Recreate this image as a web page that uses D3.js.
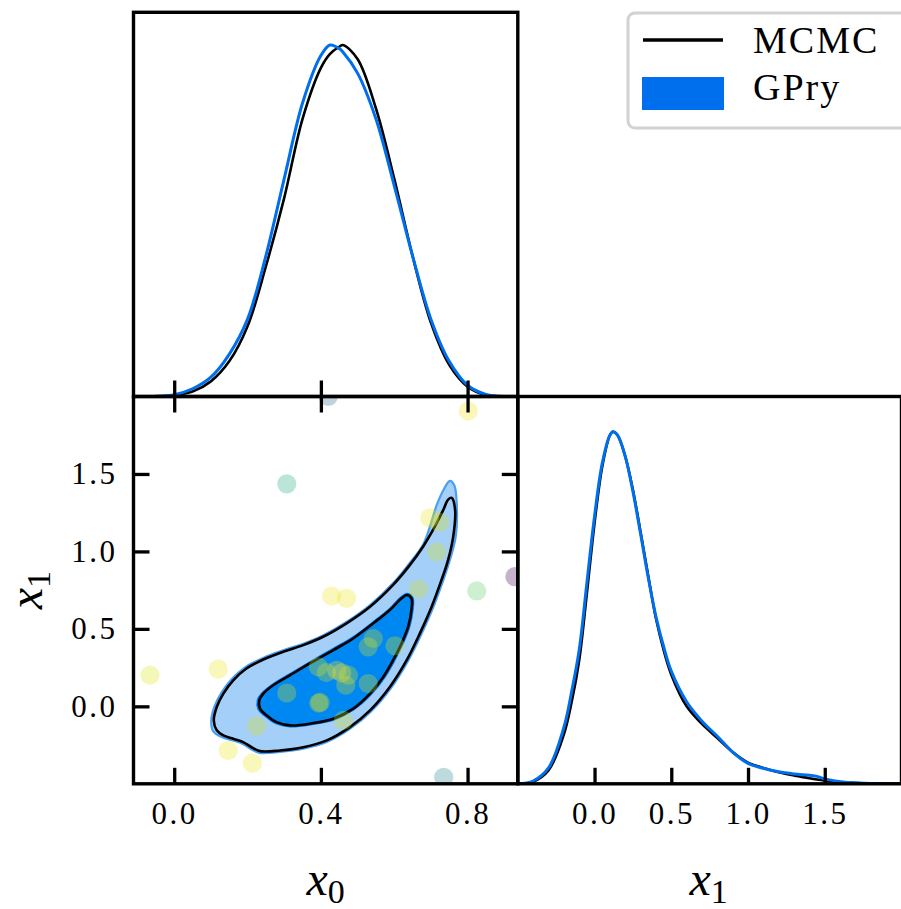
<!DOCTYPE html>
<meta charset="utf-8">
<head>
  <title>GPry vs MCMC corner plot</title>
</head>
<style>
    body {
        margin: 0;
        background-color: #ffffff;
    }
    svg text {
        font-family: "Liberation Serif", "DejaVu Serif", serif;
        fill: #000;
    }
    .tick line {
        stroke: #000;
        stroke-width: 3.3px;
    }
    .tick text {
        font-size: 31px;
        letter-spacing: 2.5px;
    }
    .frame {
        fill: none;
        stroke: #000;
        stroke-width: 3.4px;
    }
</style>
<body>
<svg id="corner" width="901" height="909"></svg>

<script src="https://d3js.org/d3.v7.min.js"></script>
<script>
    // tick labels
    var x0Ticks = [0.0, 0.4, 0.8];
    var x1Ticks = [0.0, 0.5, 1.0, 1.5];

    // 1D marginal of x0 (normalised to peak)
    var x0Grid = [-0.06, -0.05, 0.0, 0.05, 0.10, 0.15, 0.20, 0.25, 0.30, 0.35, 0.40, 0.425, 0.45, 0.46, 0.50, 0.55, 0.60, 0.65, 0.70, 0.75, 0.80, 0.85, 0.90];
    var x0Mcmc = [0.0, 0.0, 0.003, 0.014, 0.043, 0.10, 0.20, 0.37, 0.565, 0.79, 0.935, 0.975, 0.995, 1.0, 0.96, 0.82, 0.62, 0.40, 0.21, 0.09, 0.028, 0.004, 0.0];
    var x0Gpry = [0.0, 0.001, 0.005, 0.022, 0.055, 0.12, 0.22, 0.40, 0.62, 0.835, 0.97, 1.0, 0.99, 0.98, 0.92, 0.79, 0.60, 0.40, 0.22, 0.10, 0.032, 0.006, 0.0];

    // 1D marginal of x1
    var x1Grid = [-0.50, -0.40, -0.30, -0.20, -0.15, -0.10, -0.05, 0.00, 0.05, 0.10, 0.12, 0.15, 0.20, 0.25, 0.30, 0.35, 0.40, 0.45, 0.50, 0.60, 0.70, 0.80, 0.90, 1.00, 1.10, 1.20, 1.30, 1.40, 1.45, 1.50, 1.60, 1.70, 1.80, 2.00];
    var x1Mcmc = [0.0, 0.006, 0.038, 0.14, 0.23, 0.35, 0.54, 0.74, 0.90, 0.99, 1.0, 0.99, 0.93, 0.835, 0.715, 0.59, 0.47, 0.38, 0.31, 0.22, 0.17, 0.13, 0.09, 0.06, 0.045, 0.033, 0.024, 0.016, 0.012, 0.009, 0.005, 0.002, 0.001, 0.0];
    var x1Gpry = [0.0, 0.008, 0.045, 0.16, 0.26, 0.38, 0.57, 0.76, 0.91, 0.99, 1.0, 0.99, 0.93, 0.83, 0.71, 0.585, 0.475, 0.39, 0.32, 0.233, 0.178, 0.135, 0.09, 0.058, 0.044, 0.034, 0.028, 0.024, 0.021, 0.014, 0.006, 0.003, 0.001, 0.0];

    // 2D contours, [x0, x1]
    var mcmc95 = [[0.757,1.345],[0.766,1.269],[0.761,1.097],[0.747,0.946],[0.729,0.816],[0.702,0.643],[0.670,0.471],[0.634,0.298],[0.588,0.125],[0.534,-0.026],[0.479,-0.134],[0.416,-0.220],[0.352,-0.264],[0.288,-0.285],[0.234,-0.289],[0.211,-0.264],[0.188,-0.231],[0.161,-0.209],[0.134,-0.188],[0.116,-0.155],[0.108,-0.091],[0.116,-0.004],[0.134,0.082],[0.161,0.168],[0.197,0.244],[0.243,0.302],[0.297,0.352],[0.352,0.395],[0.406,0.449],[0.470,0.536],[0.534,0.643],[0.597,0.784],[0.643,0.913],[0.679,1.032],[0.711,1.161],[0.734,1.269],[0.747,1.334]];
    var mcmc68 = [[0.634,0.719],[0.647,0.697],[0.647,0.622],[0.638,0.514],[0.620,0.406],[0.597,0.298],[0.570,0.190],[0.534,0.082],[0.488,-0.015],[0.434,-0.080],[0.379,-0.108],[0.316,-0.123],[0.279,-0.102],[0.252,-0.058],[0.234,-0.015],[0.232,0.039],[0.243,0.082],[0.270,0.136],[0.316,0.201],[0.370,0.277],[0.434,0.363],[0.488,0.438],[0.543,0.536],[0.588,0.622],[0.620,0.697]];
    var gpry95 = [[0.752,1.455],[0.764,1.425],[0.770,1.330],[0.768,1.100],[0.752,0.946],[0.734,0.816],[0.707,0.643],[0.675,0.471],[0.638,0.295],[0.591,0.118],[0.536,-0.035],[0.480,-0.144],[0.416,-0.230],[0.352,-0.273],[0.288,-0.294],[0.232,-0.300],[0.209,-0.275],[0.186,-0.241],[0.158,-0.219],[0.128,-0.196],[0.106,-0.160],[0.101,-0.092],[0.110,0.000],[0.129,0.088],[0.157,0.176],[0.194,0.253],[0.241,0.311],[0.296,0.361],[0.352,0.404],[0.407,0.459],[0.471,0.546],[0.535,0.655],[0.598,0.797],[0.643,0.927],[0.680,1.050],[0.700,1.180],[0.716,1.300],[0.735,1.400]];
    var gpry68 = [[0.636,0.728],[0.651,0.700],[0.651,0.622],[0.642,0.512],[0.624,0.404],[0.601,0.295],[0.574,0.186],[0.537,0.076],[0.490,-0.022],[0.435,-0.088],[0.379,-0.116],[0.315,-0.131],[0.276,-0.109],[0.248,-0.064],[0.229,-0.018],[0.227,0.040],[0.240,0.087],[0.268,0.142],[0.314,0.208],[0.368,0.284],[0.432,0.371],[0.487,0.446],[0.542,0.544],[0.587,0.630],[0.618,0.705]];

    // GP training points: x0, x1, colour value
    var ptX0 = [0.42, 0.802, 0.307, 0.697, 0.724, 0.716, 0.929, 0.825, 0.666, 0.429, 0.470, -0.066, 0.120, 0.543, 0.529, 0.602, 0.393, 0.415, 0.443, 0.457, 0.475, 0.468, 0.529, 0.307, 0.394, 0.398, 0.461, 0.225, 0.147, 0.213, 0.735];
    var ptX1 = [2.00, 1.906, 1.436, 1.216, 1.187, 0.996, 0.837, 0.745, 0.756, 0.712, 0.697, 0.201, 0.240, 0.438, 0.384, 0.391, 0.255, 0.218, 0.233, 0.216, 0.201, 0.136, 0.147, 0.086, 0.021, 0.025, -0.091, -0.128, -0.285, -0.367, -0.458];
    var ptVal = [0.35, 0.98, 0.6, 0.97, 0.95, 0.95, 0.0, 0.75, 0.95, 0.97, 0.97, 0.95, 0.97, 0.95, 0.95, 0.95, 0.95, 0.95, 1.0, 1.0, 0.95, 0.95, 0.95, 0.95, 0.95, 0.95, 0.95, 0.95, 0.97, 0.97, 0.45];

    var legendNames = ["MCMC", "GPry"];

    var blue = "#006FED";

    // panel edges
    var L = 133.5, M = 517.8, R = 901.5, T = 12.3, MY = 396.5, B = 783.8;

    var svg = d3.select("#corner");
    var defs = svg.append("defs");

    var x0 = d3.scaleLinear().domain([-0.111, 0.937]).range([L, M]);
    var x1h = d3.scaleLinear().domain([-0.5, 2.0]).range([M, R]);
    var x1v = d3.scaleLinear().domain([-0.5, 2.0]).range([B, MY]);
    var dTop = d3.scaleLinear().domain([0, 1.093]).range([MY, T]);
    var dRight = d3.scaleLinear().domain([0, 1.1]).range([B, MY]);
    var color = d3.scaleSequential(d3.interpolateViridis).domain([0, 1]);

    function clip(id, x, y, w, h) {
        defs.append("clipPath").attr("id", id)
            .append("rect").attr("x", x).attr("y", y).attr("width", w).attr("height", h);
        return "url(#" + id + ")";
    }

    // ---- top-left: x0 marginal
    var gTop = svg.append("g").attr("clip-path", clip("cTop", L, T, M - L, MY - T));
    var lineTop = d3.line().x(function(d) { return x0(d[0]); }).y(function(d) { return dTop(d[1]); })
        .curve(d3.curveCatmullRom.alpha(0.5));
    gTop.append("path").datum(d3.zip(x0Grid, x0Mcmc))
        .attr("d", lineTop).attr("fill", "none").attr("stroke", "#000").attr("stroke-width", 2.6);
    gTop.append("path").datum(d3.zip(x0Grid, x0Gpry))
        .attr("d", lineTop).attr("fill", "none").attr("stroke", blue).attr("stroke-width", 3);

    // ---- bottom-right: x1 marginal
    var gRight = svg.append("g").attr("clip-path", clip("cRight", M, MY, R - M, B - MY));
    var lineRight = d3.line().x(function(d) { return x1h(d[0]); }).y(function(d) { return dRight(d[1]); })
        .curve(d3.curveCatmullRom.alpha(0.5));
    gRight.append("path").datum(d3.zip(x1Grid, x1Mcmc))
        .attr("d", lineRight).attr("fill", "none").attr("stroke", "#000").attr("stroke-width", 2.6);
    gRight.append("path").datum(d3.zip(x1Grid, x1Gpry))
        .attr("d", lineRight).attr("fill", "none").attr("stroke", blue).attr("stroke-width", 3);

    // ---- bottom-left: 2D contours + points
    var g2d = svg.append("g").attr("clip-path", clip("c2d", L, MY, M - L, B - MY));
    var contour = d3.line().x(function(d) { return x0(d[0]); }).y(function(d) { return x1v(d[1]); })
        .curve(d3.curveCatmullRomClosed.alpha(0.5));

    g2d.append("path").datum(gpry95).attr("d", contour)
        .attr("fill", "#a3cff8").attr("stroke", "#4c9ef2").attr("stroke-width", 2.2);
    g2d.append("path").datum(gpry68).attr("d", contour)
        .attr("fill", "#0088f2").attr("stroke", "#0074ea").attr("stroke-width", 1.5);
    g2d.append("path").datum(mcmc95).attr("d", contour)
        .attr("fill", "none").attr("stroke", "#000").attr("stroke-width", 2.6);
    g2d.append("path").datum(mcmc68).attr("d", contour)
        .attr("fill", "none").attr("stroke", "#000").attr("stroke-width", 2.6);

    g2d.selectAll("circle.pt")
        .data(d3.range(ptX0.length))
        .enter().append("circle")
        .attr("class", "pt")
        .attr("cx", function(i) { return x0(ptX0[i]); })
        .attr("cy", function(i) { return x1v(ptX1[i]); })
        .attr("r", 9.6)
        .attr("fill", function(i) { return color(ptVal[i]); })
        .attr("fill-opacity", 0.3);

    // ---- axes (inward ticks)
    var fmt = d3.format(".1f");

    svg.append("g").attr("transform", "translate(0," + MY + ")")
        .call(d3.axisTop(x0).tickValues(x0Ticks).tickSize(16).tickFormat(""));
    svg.append("g").attr("transform", "translate(0," + MY + ")")
        .call(d3.axisTop(x0).tickValues(x0Ticks).tickSize(-16).tickFormat(""));
    svg.append("g").attr("transform", "translate(0," + B + ")")
        .call(d3.axisBottom(x0).tickValues(x0Ticks).tickSize(-16).tickPadding(18).tickFormat(fmt));
    svg.append("g").attr("transform", "translate(" + L + ",0)")
        .call(d3.axisLeft(x1v).tickValues(x1Ticks).tickSize(-16).tickPadding(16).tickFormat(fmt));
    svg.append("g").attr("transform", "translate(" + M + ",0)")
        .call(d3.axisRight(x1v).tickValues(x1Ticks).tickSize(-16).tickFormat(""));
    svg.append("g").attr("transform", "translate(0," + B + ")")
        .call(d3.axisBottom(x1h).tickValues(x1Ticks).tickSize(-16).tickPadding(18).tickFormat(fmt));

    svg.selectAll(".domain").remove();

    // ---- frames
    svg.append("rect").attr("class", "frame").attr("x", L).attr("y", T).attr("width", M - L).attr("height", MY - T);
    svg.append("rect").attr("class", "frame").attr("x", L).attr("y", MY).attr("width", M - L).attr("height", B - MY);
    svg.append("rect").attr("class", "frame").attr("x", M).attr("y", MY).attr("width", R - M).attr("height", B - MY);

    // ---- axis labels
    function subLabel(x, y, sub, rotate) {
        var t = svg.append("text")
            .attr("transform", "translate(" + x + "," + y + ")" + (rotate ? " rotate(-90)" : ""))
            .attr("text-anchor", "middle");
        t.append("tspan").attr("font-style", "italic").attr("font-size", 48).text("x");
        t.append("tspan").attr("font-size", 34).attr("dy", 8).text(sub);
    }
    subLabel((L + M) / 2, 895, "0", false);
    subLabel((M + R) / 2 - 1, 895, "1", false);
    subLabel(42, (MY + B) / 2, "1", true);

    // ---- legend
    var lg = svg.append("g");
    lg.append("rect").attr("x", 628).attr("y", 13).attr("width", 290).attr("height", 115).attr("rx", 7)
        .attr("fill", "#fff").attr("stroke", "#d2d2d2").attr("stroke-width", 3);
    lg.append("line").attr("x1", 643).attr("x2", 723).attr("y1", 40).attr("y2", 40)
        .attr("stroke", "#000").attr("stroke-width", 3.6);
    lg.append("rect").attr("x", 642).attr("y", 77).attr("width", 82).attr("height", 33).attr("fill", blue);
    lg.selectAll("text.lab").data(legendNames).enter().append("text")
        .attr("class", "lab")
        .attr("x", 753)
        .attr("y", function(d, i) { return i === 0 ? 53 : 100; })
        .attr("font-size", 38)
        .attr("letter-spacing", 2)
        .text(function(d) { return d; });
</script>
</body>
